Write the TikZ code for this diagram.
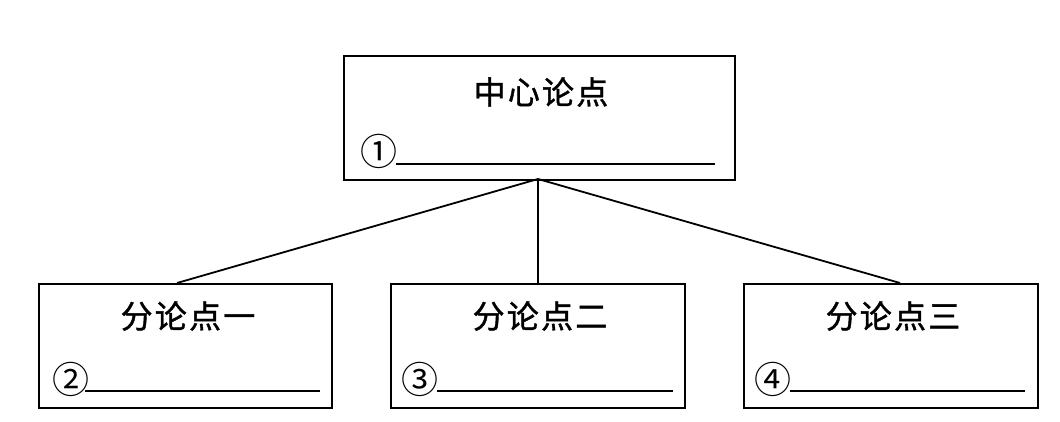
\documentclass[tikz,border=0pt]{standalone}
\usepackage{fontspec}
\newfontfamily\cjk{Noto Sans CJK SC}
\newfontfamily\cjksp[LetterSpace=7,FakeBold=1.2]{Noto Sans CJK SC}
\begin{document}
\begin{tikzpicture}[x=1pt,y=-1pt,
  boxst/.style={draw,line width=2.2pt,minimum width=#1,minimum height=124pt,inner sep=0pt,anchor=north west},
  titlest/.style={font=\cjksp\fontsize{32}{33}\selectfont,inner sep=0pt},
  numst/.style={font=\cjk\fontsize{37}{37}\selectfont,inner sep=0pt},
  blank/.style={line width=2pt},
  link/.style={line width=1.8pt}]
\useasboundingbox (0,0) rectangle (1060,422);
\fill[white] (0,0) rectangle (1060,422);
% boxes
\node[boxst=391pt] (top) at (343,55) {};
\node[boxst=293pt] (b1) at (38,283) {};
\node[boxst=294pt] (b2) at (390,283) {};
\node[boxst=294pt] (b3) at (743,283) {};
% titles
\node[titlest] (t0) at (541,92) {中心论点};
\node[titlest] (t1) at (188,316) {分论点一};
\node[titlest] (t2) at (540,316) {分论点二};
\node[titlest] (t3) at (893,316) {分论点三};
% numbers
\node[numst] (n1) at (379,151) {①};
\node[numst] (n2) at (71,379) {②};
\node[numst] (n3) at (420,379) {③};
\node[numst] (n4) at (773,379) {④};
% blanks
\coordinate (u1a) at (396,164); \coordinate (u1b) at (715,164);
\coordinate (u2a) at (85,391);  \coordinate (u2b) at (320,391);
\coordinate (u3a) at (437,391); \coordinate (u3b) at (673,391);
\coordinate (u4a) at (790,391); \coordinate (u4b) at (1025,391);
\draw[blank] (u1a) -- (u1b);
\draw[blank] (u2a) -- (u2b);
\draw[blank] (u3a) -- (u3b);
\draw[blank] (u4a) -- (u4b);
% connectors
\coordinate (hub) at (538,179);
\coordinate (e1) at (177,283);
\coordinate (e2) at (538,283);
\coordinate (e3) at (900,283);
\draw[link] (hub) -- (e1);
\draw[link] (hub) -- (e2);
\draw[link] (hub) -- (e3);
\end{tikzpicture}
\end{document}
